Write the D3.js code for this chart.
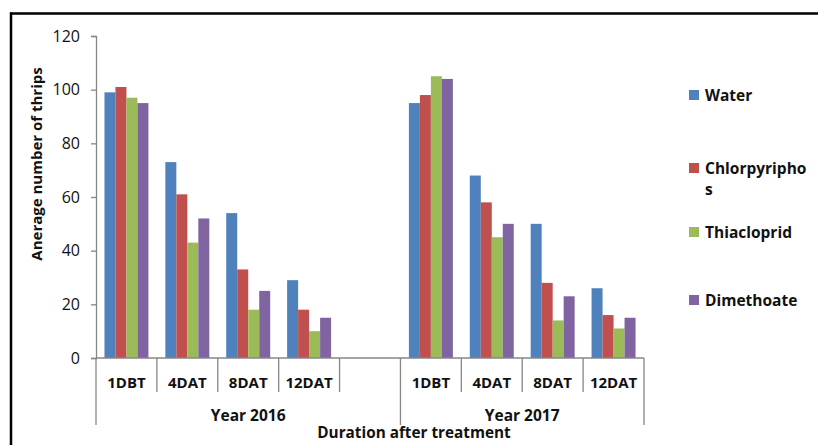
<!DOCTYPE html>
<html>
<head>
<meta charset="utf-8">
<script src="https://cdn.jsdelivr.net/npm/d3@7"></script>
<style>
  body { margin: 0; background: #fff; }
  text { font-family: "Open Sans", sans-serif; fill: #111; }
</style>
</head>
<body>
<script>
// chart data
var categories = ["1DBT", "4DAT", "8DAT", "12DAT"];
var years = ["Year 2016", "Year 2017"];
var series = ["Water", "Chlorpyriphos", "Thiacloprid", "Dimethoate"];
var legendLines = [["Water"], ["Chlorpyripho", "s"], ["Thiacloprid"], ["Dimethoate"]];
var colors = ["#4F81BD", "#C0504D", "#9BBB59", "#8064A2"];
// one row per category, values in series order
var values2016 = [[99, 101, 97, 95], [73, 61, 43, 52], [54, 33, 18, 25], [29, 18, 10, 15]];
var values2017 = [[95, 98, 105, 104], [68, 58, 45, 50], [50, 28, 14, 23], [26, 16, 11, 15]];
var yTicks = [0, 20, 40, 60, 80, 100, 120];

(function(){
    var width = 818, height = 445;
    var left = 96, right = 644, top = 36, bottom = 358;

    var svg = d3.select("body").append("svg")
        .attr("width", width)
        .attr("height", height);

    // frame (only top and left edges fall inside the picture)
    svg.append("line").attr("x1", 10).attr("x2", width).attr("y1", 13.5).attr("y2", 13.5)
        .attr("stroke", "#000").attr("stroke-width", 2.5);
    svg.append("line").attr("x1", 11).attr("x2", 11).attr("y1", 12.5).attr("y2", height)
        .attr("stroke", "#000").attr("stroke-width", 2.5);

    // slots: 2016 has an empty slot after 12DAT
    var slots = [];
    categories.forEach(c => slots.push({year: 0, cat: c, key: "0-" + c}));
    slots.push({year: 0, cat: "", key: "0-gap"});
    categories.forEach(c => slots.push({year: 1, cat: c, key: "1-" + c}));

    var x0 = d3.scaleBand()
        .domain(slots.map(d => d.key))
        .range([left, right])
        .padding(0);

    var x1 = d3.scaleBand()
        .domain(series)
        .range([0, x0.bandwidth()])
        .paddingInner(0)
        .paddingOuter(0.77);

    var y = d3.scaleLinear()
        .domain([0, 120])
        .range([bottom, top]);

    // bars
    var rows = [];
    [values2016, values2017].forEach((vals, yi) => {
        vals.forEach((row, ci) => {
            row.forEach((v, si) => {
                rows.push({key: yi + "-" + categories[ci], s: series[si], v: v, c: colors[si]});
            });
        });
    });

    svg.selectAll(".bar")
        .data(rows)
        .enter()
        .append("rect")
        .attr("class", "bar")
        .attr("x", d => x0(d.key) + x1(d.s))
        .attr("width", x1.bandwidth())
        .attr("y", d => y(d.v))
        .attr("height", d => y(0) - y(d.v))
        .attr("fill", d => d.c);

    // y axis
    var yAxis = svg.append("g")
        .attr("transform", `translate(${left},0)`)
        .call(d3.axisLeft(y).tickValues(yTicks).tickSize(5).tickPadding(11));
    yAxis.select(".domain").attr("stroke", "#868686").attr("stroke-width", 1.3);
    yAxis.selectAll(".tick line").attr("stroke", "#868686").attr("stroke-width", 1.3);
    yAxis.selectAll("text")
        .style("font-family", "'Open Sans', sans-serif")
        .style("font-size", "16px")
        .attr("fill", "#222");

    // x axis: baseline, dividers, labels
    var gx = svg.append("g");
    gx.append("line")
        .attr("x1", left).attr("x2", right)
        .attr("y1", bottom).attr("y2", bottom)
        .attr("stroke", "#868686").attr("stroke-width", 1.3);

    var edges = slots.map(d => x0(d.key)).concat([x0.range()[1]]);
    var yearEdges = [x0("0-1DBT"), x0("1-1DBT"), x0.range()[1]];
    gx.selectAll(".div")
        .data(edges)
        .enter()
        .append("line")
        .attr("x1", d => d).attr("x2", d => d)
        .attr("y1", bottom)
        .attr("y2", d => yearEdges.some(e => Math.abs(e - d) < 0.5) ? 425 : 392)
        .attr("stroke", "#868686").attr("stroke-width", 1.3);

    gx.selectAll(".cat")
        .data(slots.filter(d => d.cat))
        .enter()
        .append("text")
        .attr("x", d => x0(d.key) + x0.bandwidth() / 2)
        .attr("y", 387.5)
        .attr("text-anchor", "middle")
        .style("font-size", "15px")
        .style("font-weight", "bold")
        .text(d => d.cat);

    gx.selectAll(".year")
        .data(years)
        .enter()
        .append("text")
        .attr("x", (d, i) => (yearEdges[i] + yearEdges[i + 1]) / 2)
        .attr("y", 420.5)
        .attr("text-anchor", "middle")
        .style("font-size", "15.5px")
        .style("font-weight", "bold")
        .text(d => d);

    // axis titles
    svg.append("text")
        .attr("x", 414)
        .attr("y", 437.5)
        .attr("text-anchor", "middle")
        .style("font-size", "15.3px")
        .style("font-weight", "bold")
        .text("Duration after treatment");

    svg.append("text")
        .attr("transform", "translate(42,164) rotate(-90)")
        .attr("text-anchor", "middle")
        .style("font-size", "15px")
        .style("font-weight", "bold")
        .text("Anerage number of thrips");

    // legend
    var legendY = [95, 168, 232, 300];
    var legend = svg.selectAll(".legend")
        .data(series)
        .enter()
        .append("g")
        .attr("class", "legend")
        .attr("transform", (d, i) => `translate(689,${legendY[i]})`);

    legend.append("rect")
        .attr("x", 0).attr("y", -5)
        .attr("width", 10).attr("height", 10)
        .attr("fill", (d, i) => colors[i]);

    legend.append("text")
        .attr("x", 16)
        .attr("y", 5.5)
        .style("font-size", "15.5px")
        .style("font-weight", "bold")
        .selectAll("tspan")
        .data((d, i) => legendLines[i])
        .enter()
        .append("tspan")
        .attr("x", 16)
        .attr("dy", (d, j) => j === 0 ? 0 : 21)
        .text(d => d);
})();
</script>
</body>
</html>
